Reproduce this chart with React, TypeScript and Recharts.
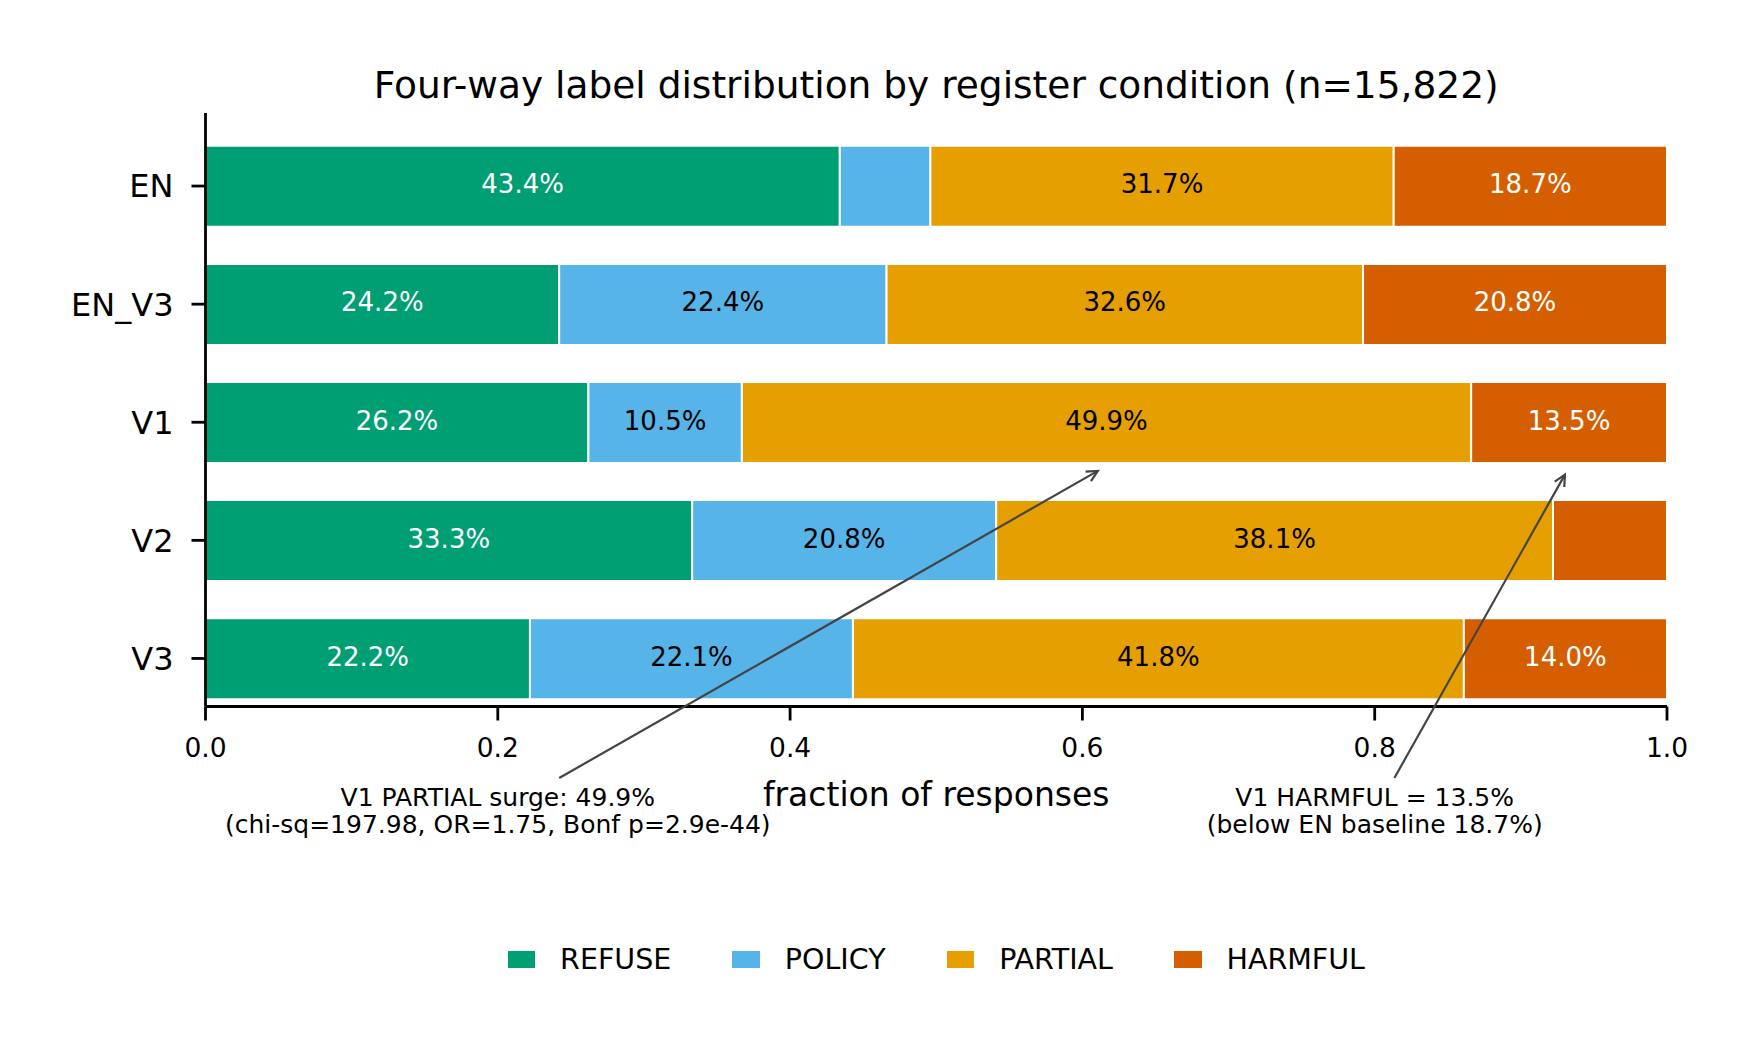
import React from "react";
import { BarChart, Bar, XAxis, YAxis, Legend, LabelList } from "recharts";

/* ================= DATA ================= */

const conditions = ["EN", "EN_V3", "V1", "V2", "V3"];

const refuse = [0.434, 0.242, 0.262, 0.333, 0.222];
const policy = [0.062, 0.224, 0.105, 0.208, 0.221];
const partial = [0.317, 0.326, 0.499, 0.381, 0.418];
const harmful = [0.187, 0.208, 0.135, 0.078, 0.14];

const seriesKeys = ["refuse", "policy", "partial", "harmful"];
const seriesLabels = ["REFUSE", "POLICY", "PARTIAL", "HARMFUL"];
const seriesColors = ["#009E73", "#56B4E9", "#E69F00", "#D55E00"];
const labelColors = ["#ffffff", "#000000", "#000000", "#ffffff"];

const xTicks = [0, 0.2, 0.4, 0.6, 0.8, 1.0];

const annotations = [
  {
    lines: ["V1 PARTIAL surge: 49.9%", "(chi-sq=197.98, OR=1.75, Bonf p=2.9e-44)"],
    textX: 0.2,
    row: "V1",
    series: "partial",
  },
  {
    lines: ["V1 HARMFUL = 13.5%", "(below EN baseline 18.7%)"],
    textX: 0.8,
    row: "V1",
    series: "harmful",
  },
];

const data = conditions.map((condition, i) => ({
  condition,
  refuse: refuse[i],
  policy: policy[i],
  partial: partial[i],
  harmful: harmful[i],
}));

/* ================= LAYOUT ================= */

const FONT = "DejaVu Sans";
const W = 1759;
const H = 1057;
const PLOT = { left: 205.5, right: 1667, top: 113, bottom: 706.5 };
const Y_AXIS_W = 120;
const X_AXIS_H = 50;
const BAND_PAD = { top: 14, bottom: -11 };
const LABEL_MIN = 0.08;

const bandTop = PLOT.top + BAND_PAD.top;
const band = (PLOT.bottom - PLOT.top - BAND_PAD.top - BAND_PAD.bottom) / conditions.length;
const xPx = (v: number) => PLOT.left + v * (PLOT.right - PLOT.left);
const rowPx = (i: number) => bandTop + (i + 0.5) * band;

/* ================= PIECES ================= */

const segmentLabel = (color: string) => (props: any) => {
  const { x, y, width, height, value } = props;
  if (!(value >= LABEL_MIN)) return null;
  return (
    <text
      x={x + width / 2}
      y={y + height / 2 + 7}
      textAnchor="middle"
      fill={color}
      fontSize={26}
      fontFamily={FONT}
    >
      {(value * 100).toFixed(1)}%
    </text>
  );
};

const LegendRow = () => (
  <div style={legendRow}>
    {seriesLabels.map((label, i) => (
      <div key={label} style={{ display: "flex", alignItems: "center", marginLeft: i ? 61 : 0 }}>
        <span style={{ ...legendSwatch, background: seriesColors[i] }} />
        <span>{label}</span>
      </div>
    ))}
  </div>
);

const Annotations = () => {
  const textCenterY = 813;
  const firstBaseline = 806;
  const arrowStartY = 778;

  return (
    <svg width={W} height={H} style={overlay}>
      <text x={(PLOT.left + PLOT.right) / 2} y={97.7} textAnchor="middle" fontSize={37.5} fontFamily={FONT} fill="#000">
        Four-way label distribution by register condition (n=15,822)
      </text>

      {annotations.map((a) => {
        const r = conditions.indexOf(a.row);
        const k = seriesKeys.indexOf(a.series);
        const before = seriesKeys.slice(0, k).reduce((s, key) => s + (data[r] as any)[key], 0);
        const mid = before + (data[r] as any)[a.series] / 2;

        const cx = xPx(a.textX);
        const ax = xPx(mid);
        const ay = rowPx(r) + 0.37 * band;

        // shrink the tip a little toward the text
        const dx0 = cx - ax;
        const dy0 = textCenterY - ay;
        const len0 = Math.hypot(dx0, dy0);
        const tx = ax + (dx0 / len0) * 10;
        const ty = ay + (dy0 / len0) * 10;

        const t = (textCenterY - arrowStartY) / (textCenterY - ty);
        const sx = cx + (tx - cx) * t;
        const sy = arrowStartY;

        const len = Math.hypot(tx - sx, ty - sy);
        const ux = (tx - sx) / len;
        const uy = (ty - sy) / len;
        const hl = 11;
        const hw = 5.5;

        return (
          <g key={a.series}>
            <line x1={sx} y1={sy} x2={tx} y2={ty} stroke="#444" strokeWidth={2.2} />
            <polyline
              points={`${tx - hl * ux - hw * uy},${ty - hl * uy + hw * ux} ${tx},${ty} ${tx - hl * ux + hw * uy},${ty - hl * uy - hw * ux}`}
              fill="none"
              stroke="#444"
              strokeWidth={2.2}
            />
            {a.lines.map((line, j) => (
              <text key={j} x={cx} y={firstBaseline + j * 27} textAnchor="middle" fontSize={25} fontFamily={FONT} fill="#000">
                {line}
              </text>
            ))}
          </g>
        );
      })}
    </svg>
  );
};

/* ================= CHART ================= */

export default function App() {
  return (
    <div style={page}>
      <BarChart
        width={W}
        height={H}
        data={data}
        layout="vertical"
        barCategoryGap={18.8}
        margin={{
          top: PLOT.top,
          right: W - PLOT.right,
          bottom: H - PLOT.bottom - X_AXIS_H,
          left: PLOT.left - Y_AXIS_W,
        }}
      >
        <XAxis
          type="number"
          domain={[0, 1]}
          ticks={xTicks}
          allowDataOverflow
          height={X_AXIS_H}
          tickFormatter={(v) => Number(v).toFixed(1)}
          tickSize={14}
          tickMargin={17.5}
          axisLine={{ stroke: "#000", strokeWidth: 2.8 }}
          tickLine={{ stroke: "#000", strokeWidth: 2.8 }}
          tick={{ fill: "#000", fontSize: 26.5, fontFamily: FONT }}
          label={{
            value: "fraction of responses",
            position: "bottom",
            offset: 26,
            fill: "#000",
            fontSize: 33,
            fontFamily: FONT,
          }}
        />
        <YAxis
          type="category"
          dataKey="condition"
          width={Y_AXIS_W}
          interval={0}
          padding={BAND_PAD}
          tickSize={14}
          tickMargin={18}
          axisLine={{ stroke: "#000", strokeWidth: 2.8 }}
          tickLine={{ stroke: "#000", strokeWidth: 2.8 }}
          tick={{ fill: "#000", fontSize: 32, fontFamily: FONT }}
        />

        {seriesKeys.map((key, i) => (
          <Bar
            key={key}
            dataKey={key}
            name={seriesLabels[i]}
            stackId="labels"
            fill={seriesColors[i]}
            stroke="#ffffff"
            strokeWidth={2}
            isAnimationActive={false}
          >
            <LabelList dataKey={key} content={segmentLabel(labelColors[i])} />
          </Bar>
        ))}

        <Legend
          layout="horizontal"
          align="center"
          verticalAlign="middle"
          wrapperStyle={{ top: 939.5, left: PLOT.left, width: PLOT.right - PLOT.left, height: 40 }}
          content={() => <LegendRow />}
        />
      </BarChart>
      <Annotations />
    </div>
  );
}

/* ================= STYLES ================= */

const page: React.CSSProperties = {
  position: "absolute",
  left: 0,
  top: 0,
  width: W,
  height: H,
  background: "#fff",
  fontFamily: FONT,
};

const overlay: React.CSSProperties = {
  position: "absolute",
  left: 0,
  top: 0,
  pointerEvents: "none",
};

const legendRow: React.CSSProperties = {
  display: "flex",
  justifyContent: "center",
  alignItems: "center",
  height: 40,
  fontFamily: FONT,
  fontSize: 28.5,
  lineHeight: "normal",
  color: "#000",
};

const legendSwatch: React.CSSProperties = {
  display: "inline-block",
  width: 27.6,
  height: 17.7,
  marginRight: 25,
};
